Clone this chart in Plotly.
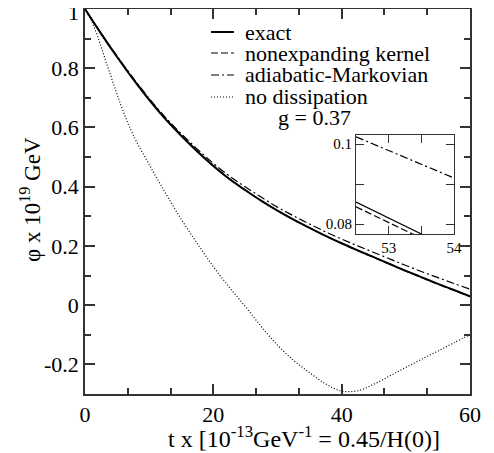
import plotly.graph_objects as go

# ---------------- data ----------------
t_main = [0, 2.5, 5, 7.5, 10, 12.5, 15, 17.5, 20, 22.5, 25, 27.5, 30,
          32.5, 35, 37.5, 40, 42.5, 45, 47.5, 50, 52.5, 55, 57.5, 60]
phi_exact = [1.0, 0.917, 0.838, 0.763, 0.693, 0.629, 0.572, 0.519, 0.470,
             0.426, 0.388, 0.352, 0.319, 0.289, 0.261, 0.234, 0.209, 0.185,
             0.162, 0.139, 0.116, 0.094, 0.072, 0.051, 0.030]
phi_nonexp = [1.0, 0.918, 0.840, 0.766, 0.696, 0.632, 0.575, 0.521, 0.472,
              0.427, 0.389, 0.352, 0.319, 0.2885, 0.2605, 0.2333, 0.208, 0.184,
              0.161, 0.138, 0.1148, 0.0928, 0.0708, 0.0498, 0.0288]
phi_adiab = [1.0, 0.918, 0.841, 0.767, 0.698, 0.635, 0.579, 0.527, 0.479,
             0.436, 0.399, 0.364, 0.331, 0.3015, 0.274, 0.2475, 0.223, 0.200,
             0.178, 0.156, 0.134, 0.113, 0.093, 0.073, 0.054]

t_nodiss = [0, 1, 2, 3, 4, 5, 6, 7.5, 10, 12.5, 15, 17.5, 20, 22.5, 25,
            27.5, 30, 32.5, 35, 37.5, 40, 42.5, 45, 47.5, 50, 52.5, 55, 57.5, 60]
phi_nodiss = [1.0, 0.96, 0.905, 0.84, 0.775, 0.712, 0.652, 0.575, 0.475,
              0.38, 0.29, 0.208, 0.13, 0.06, -0.005, -0.073, -0.135, -0.186,
              -0.228, -0.266, -0.29, -0.289, -0.267, -0.239, -0.21, -0.182,
              -0.155, -0.127, -0.1]

# inset (zoom into t = 52.5 ... 54)
t_inset = [52.5, 54.0]
inset_exact = [0.0855, 0.0735]
inset_nonexp = [0.0843, 0.0725]
inset_adiab = [0.1018, 0.0915]

x_ticks = [0, 20, 40, 60]
x_ticklabels = ["0", "20", "40", "60"]
y_ticks = [-0.2, 0, 0.2, 0.4, 0.6, 0.8, 1.0]
y_ticklabels = ["-0.2", "0", "0.2", "0.4", "0.6", "0.8", ""]
y_top_label = "1"
inset_x_ticks = [53, 54]
inset_x_ticklabels = ["53", "54"]
inset_y_ticks = [0.08, 0.1]
inset_y_ticklabels = ["0.08", "0.1"]

names = ["exact", "nonexpanding kernel", "adiabatic-Markovian", "no dissipation"]
x_title = "t x [10<sup>-13</sup>GeV<sup>-1</sup> = 0.45/H(0)]"
y_title = "φ x 10<sup>19</sup> GeV"
note = "g = 0.37"

FONT = "Liberation Serif, Times New Roman, serif"

# ---------------- geometry (page pixels; body has an 8px margin) ----------------
OFF = 8
W, H = 494 - OFF, 453 - OFF
ML, MR, MT, MB = 85 - OFF, 24, 1, 59
PW, PH = W - ML - MR, H - MT - MB

def px_x(p):
    return (p - OFF - ML) / PW

def px_y(p):
    return (H - MB - (p - OFF)) / PH

styles = [dict(color="black", width=2),
          dict(color="black", width=1.2, dash="7px,3px"),
          dict(color="black", width=1.2, dash="8px,3px,2px,3px"),
          dict(color="black", width=1.2, dash="1px,2px")]

fig = go.Figure()
fig.add_trace(go.Scatter(x=t_main, y=phi_exact, mode="lines", name=names[0],
                         line=dict(**styles[0], shape="spline")))
fig.add_trace(go.Scatter(x=t_main, y=phi_nonexp, mode="lines", name=names[1],
                         line=dict(**styles[1], shape="spline")))
fig.add_trace(go.Scatter(x=t_main, y=phi_adiab, mode="lines", name=names[2],
                         line=dict(**styles[2], shape="spline")))
fig.add_trace(go.Scatter(x=t_nodiss, y=phi_nodiss, mode="lines", name=names[3],
                         line=dict(**styles[3], shape="spline")))

# inset traces
fig.add_trace(go.Scatter(x=t_inset, y=inset_exact, mode="lines", showlegend=False,
                         xaxis="x2", yaxis="y2", line=dict(color="black", width=1.2)))
fig.add_trace(go.Scatter(x=t_inset, y=inset_nonexp, mode="lines", showlegend=False,
                         xaxis="x2", yaxis="y2", line=dict(color="black", width=1.2, dash="7px,3px")))
fig.add_trace(go.Scatter(x=t_inset, y=inset_adiab, mode="lines", showlegend=False,
                         xaxis="x2", yaxis="y2", line=dict(color="black", width=1.2, dash="8px,3px,2px,3px")))

axis_common = dict(showgrid=False, zeroline=False, showline=True, linecolor="#333",
                   linewidth=1.5, mirror="ticks", ticks="inside", tickcolor="#333",
                   tickwidth=1.5, automargin=False, ticklabeloverflow="allow")
inset_common = dict(showgrid=False, zeroline=False, showline=True, linecolor="#333",
                    linewidth=1.2, mirror="ticks", ticks="inside", tickcolor="#333",
                    tickwidth=1.2, automargin=False, ticklabeloverflow="allow",
                    ticklen=8, tickfont=dict(size=15))

# custom legend (line samples + labels) and texts
legend_rows_px = [32, 53, 75, 97]
shapes = []
annotations = []
for name, st, ry in zip(names, styles, legend_rows_px):
    shapes.append(dict(type="line", xref="paper", yref="paper",
                       x0=px_x(211), x1=px_x(234), y0=px_y(ry), y1=px_y(ry),
                       line=st))
    annotations.append(dict(text=name, x=px_x(243), y=px_y(ry), xref="paper", yref="paper",
                            showarrow=False, xanchor="left", yanchor="middle",
                            font=dict(size=22, family=FONT, color="black")))
annotations.append(dict(text=note, x=px_x(314), y=px_y(117), xref="paper", yref="paper",
                        showarrow=False, font=dict(size=22, family=FONT, color="black"),
                        xanchor="center", yanchor="middle"))
annotations.append(dict(text=x_title, x=px_x(304), y=px_y(437), xref="paper", yref="paper",
                        showarrow=False, font=dict(size=24, family=FONT, color="black"),
                        xanchor="center", yanchor="middle"))
annotations.append(dict(text=y_title, x=px_x(30), y=px_y(200), xref="paper", yref="paper",
                        showarrow=False, textangle=-90,
                        font=dict(size=23, family=FONT, color="black"),
                        xanchor="center", yanchor="middle"))
annotations.append(dict(text=y_top_label, x=px_x(81), y=px_y(12), xref="paper", yref="paper",
                        showarrow=False, font=dict(size=22, family=FONT, color="black"),
                        xanchor="right", yanchor="middle"))

fig.update_layout(
    width=W, height=H,
    margin=dict(l=ML, r=MR, t=MT, b=MB),
    plot_bgcolor="white", paper_bgcolor="white",
    font=dict(family=FONT, color="black", size=22),
    showlegend=False,
    xaxis=dict(range=[0, 60], tickvals=x_ticks, ticktext=x_ticklabels,
               ticklen=10, tickfont=dict(size=22),
               minor=dict(ticks="inside", dtick=20/3, tick0=0, ticklen=6,
                          tickcolor="#333", tickwidth=1.5),
               **axis_common),
    yaxis=dict(range=[-0.3, 1.0], tickvals=y_ticks, ticktext=y_ticklabels,
               ticklen=10, tickfont=dict(size=22),
               minor=dict(ticks="inside", dtick=0.1, tick0=0, ticklen=6,
                          tickcolor="#333", tickwidth=1.5),
               **axis_common),
    xaxis2=dict(domain=[px_x(356), px_x(454)], anchor="y2", range=[52.5, 54],
                tickvals=inset_x_ticks, ticktext=inset_x_ticklabels,
                minor=dict(ticks="inside", dtick=0.5, tick0=53, ticklen=8,
                           tickcolor="#333", tickwidth=1.2),
                **inset_common),
    yaxis2=dict(domain=[px_y(234), px_y(135)], anchor="x2", range=[0.0775, 0.10225],
                tickvals=inset_y_ticks, ticktext=inset_y_ticklabels,
                minor=dict(ticks="inside", dtick=0.01, tick0=0, ticklen=8,
                           tickcolor="#333", tickwidth=1.2),
                **inset_common),
    shapes=shapes,
    annotations=annotations,
)

fig.write_html("out.html")
